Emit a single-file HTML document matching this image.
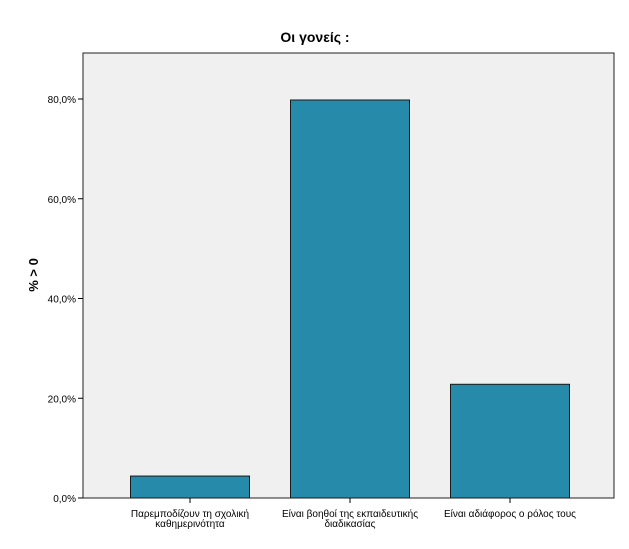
<!DOCTYPE html>
<html><head><meta charset="utf-8"><style>
body{margin:0;background:#fff;}
svg text{font-family:"Liberation Sans",sans-serif;fill:#000;}
</style></head><body>
<svg width="629" height="544">
<text x="315" y="42" text-anchor="middle" font-size="14" font-weight="bold">Οι γονείς :</text>
<rect x="83" y="53" width="531" height="445" fill="#f0f0f0" stroke="#222" stroke-width="1"/>
<text transform="translate(38,275) rotate(-90)" text-anchor="middle" font-size="13" font-weight="bold">% &gt; 0</text>
<g id="ticks"></g><g id="bars"></g><g id="xlabels"></g>
</svg>
<script>
const categories=[["Παρεμποδίζουν τη σχολική","καθημερινότητα"],["Είναι βοηθοί της εκπαιδευτικής","διαδικασίας"],["Είναι αδιάφορος ο ρόλος τους"]];
const values=[4.4,79.8,22.8];
const yTicks=[0,20,40,60,80];
const yTickLabels=["0,0%","20,0%","40,0%","60,0%","80,0%"];
const NS="http://www.w3.org/2000/svg";
function y(v){return 498-v*(399/80);}
function x(i){return 190+i*160;}
function mk(t,a,p){const e=document.createElementNS(NS,t);for(const k in a)e.setAttribute(k,a[k]);p.appendChild(e);return e;}
const tg=document.getElementById('ticks');
yTicks.forEach((v,i)=>{
 const l=mk('line',{x1:78,x2:83,y1:y(v),y2:y(v),stroke:'#000'},tg);
 
 
 const t=mk('text',{x:76,y:y(v)+4,'text-anchor':'end','font-size':'10'},tg);
 
 
 t.textContent=yTickLabels[i];
});
const bg=document.getElementById('bars');
values.forEach((v,i)=>{
 const r=mk('rect',{x:x(i)-59.5,y:y(v),width:119,height:498-y(v),fill:'#268aab',stroke:'#1a1a1a','stroke-width':1},bg);
 
 
});
const xg=document.getElementById('xlabels');
categories.forEach((c,i)=>{
 const l=mk('line',{x1:x(i),x2:x(i),y1:498,y2:503,stroke:'#000'},xg);
 
 
 c.forEach((s,j)=>{
  const t=mk('text',{x:x(i),y:517+j*10,'text-anchor':'middle','font-size':'10'},xg);
  
  
  t.textContent=s;
 });
});
</script>
</body></html>
